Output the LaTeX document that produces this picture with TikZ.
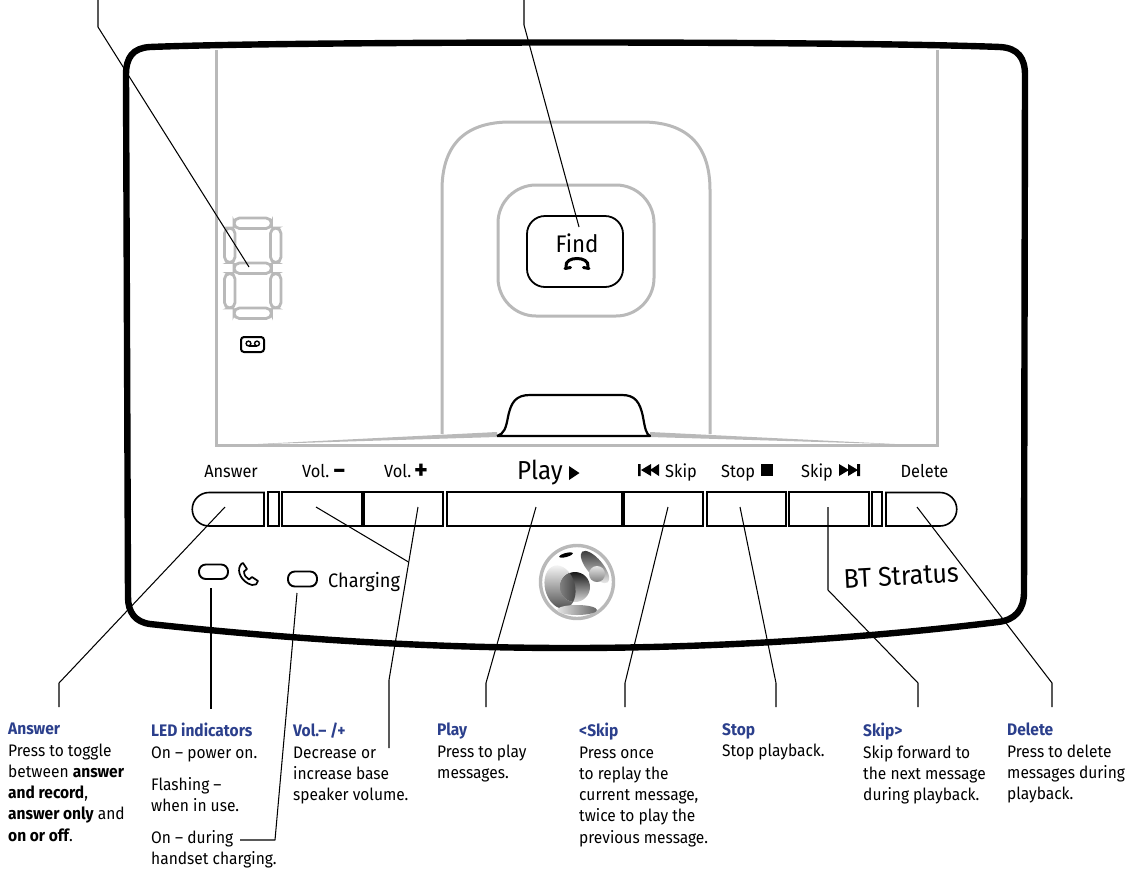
\documentclass[tikz,border=0pt]{standalone}
\usepackage{fontspec}
\setmainfont[FakeStretch=0.93]{Fira Sans}
\definecolor{ttl}{HTML}{2B3F8C}
\definecolor{gry}{HTML}{B9B9B9}
\tikzset{
 grayline/.style={draw=gry,line width=3pt},
 body/.style={draw=black,line width=6.4pt,line join=round},
 btn/.style={draw=black,line width=1.6pt},
 rbtn/.style={btn,rectangle,minimum height=34pt,inner sep=0pt},
 seg/.style={draw=gry,line width=2.8pt,rounded corners=5.4pt},
 pill/.style={draw=black,line width=1.9pt,rounded corners=6.8pt},
 conn/.style={draw=black,line width=1.05pt,line join=round},
 keylab/.style={font=\fontsize{17.6}{18}\selectfont,anchor=base,inner sep=0pt},
 note/.style={font=\fontsize{16.7}{21.3}\selectfont,anchor=north west,align=left,inner sep=0pt},
}
\newcommand{\ttlb}[1]{{\color{ttl}\bfseries #1}}
\begin{document}
\begin{tikzpicture}[x=1pt,y=-1pt]
\useasboundingbox (0,0) rectangle (1139,868);
% gray base outlines
\draw[grayline] (216,50) -- (216,445) -- (937,445) -- (937,50);
\draw[grayline] (442,434) -- (442,190) .. controls (442,145) and (465,122) .. (510,122) -- (642,122) .. controls (687,122) and (710,145) .. (710,190) -- (710,434);
\draw[grayline,rounded corners=38pt] (498,185) rectangle (654,316);
\fill[gry] (248,444.5) -- (497,432) -- (497,437) -- cycle;
\fill[gry] (905,444.5) -- (650,432) -- (650,437) -- cycle;
% outer body
\draw[body] (150,47) .. controls (300,41) and (850,41) .. (1000,47)
  .. controls (1018,48) and (1025,58) .. (1025,75)
  -- (1024,592) .. controls (1024,610) and (1015,620) .. (998,622)
  .. controls (850,640) and (700,648) .. (570,648)
  .. controls (420,648) and (280,638) .. (150,624)
  .. controls (135,622) and (128,612) .. (128,597)
  -- (126,75) .. controls (126,57) and (133,48) .. (150,47) -- cycle;
% seven segment
\draw[seg] (234,218) rectangle (271.5,228.5);
\draw[seg] (234,263) rectangle (271.5,273.5);
\draw[seg] (234,308) rectangle (271.5,318.5);
\draw[seg] (224.5,228) rectangle (235,262.5);
\draw[seg] (270.5,228) rectangle (281,262.5);
\draw[seg] (224.5,273.5) rectangle (235,308);
\draw[seg] (270.5,273.5) rectangle (281,308);
% message icon
\draw[draw=black,line width=2pt,rounded corners=3pt] (241,337) rectangle (264,352);
\draw[line width=1.4pt] (248.5,343.5) circle (2.4) (257,343.5) circle (2.4);
\draw[line width=1.4pt] (248.5,346) -- (257,346);
% Find button
\node[draw=black,line width=1.8pt,rounded corners=18pt,minimum width=96pt,minimum height=71pt] (find) at (575,251.5) {};
\node[font=\fontsize{24}{26}\selectfont,anchor=base,inner sep=0pt] (findt) at (577,252) {Find};
\draw[line width=3pt,line cap=round] (566,267) .. controls (565,261) and (571,258.5) .. (577,258.5) .. controls (583,258.5) and (589,261) .. (588,267);
\draw[line width=3pt,line cap=round] (565,268.5) -- (570.5,267.5) (589,268.5) -- (583.5,267.5);
% stand notch
\draw[line width=2.2pt,line join=round] (497,436) -- (650,436) .. controls (646,434) and (645,428) .. (643,417) .. controls (640,402) and (635,395) .. (622,395) -- (530,395) .. controls (516,395) and (511,402) .. (508,417) .. controls (506,428) and (504,434) .. (497,436);
% key labels
\node[keylab] (lanswer) at (231,477) {Answer};
\node[keylab,anchor=base west] (lvolm) at (302,477) {Vol.};
\node[font=\fontsize{26}{28}\selectfont\bfseries,anchor=base west,inner sep=0pt] (lvolms) at (333,479) {−};
\node[keylab,anchor=base west] (lvolp) at (384,477) {Vol.};
\node[font=\fontsize{28}{30}\selectfont\bfseries,anchor=base west,inner sep=0pt] (lvolps) at (414,479.5) {+};
\node[font=\fontsize{26}{28}\selectfont,anchor=base west,inner sep=0pt] (lplay) at (517,479) {Play};
\fill[black] (569,466) -- (579.5,473) -- (569,480) -- cycle;
\fill[black] (638,464) rectangle (640.5,476) (651,464) -- (651,476) -- (641,470) -- cycle (659,464) -- (659,476) -- (650,470) -- cycle;
\node[keylab,anchor=base west] (lskipa) at (665,477) {Skip};
\node[keylab,anchor=base west] (lstop) at (721,477) {Stop};
\fill[black] (761,464) rectangle (773,476);
\node[keylab,anchor=base west] (lskipb) at (801,477) {Skip};
\fill[black] (839,464) -- (839,476) -- (849,470) -- cycle (848,464) -- (848,476) -- (858,470) -- cycle (857,464) rectangle (860,476);
\node[keylab] (ldelete) at (924.5,477) {Delete};
% buttons
\draw[btn] (264,492.5) -- (209,492.5) arc[start angle=-90,end angle=-270,radius=16.75] -- (264,526) -- cycle;
\node[rbtn,minimum width=11pt] (bs1) at (273.5,509.25) {};
\node[rbtn,minimum width=80pt] (bvm) at (322,509.25) {};
\node[rbtn,minimum width=79pt] (bvp) at (403.5,509.25) {};
\node[rbtn,minimum width=175pt] (bplay) at (534.5,509.25) {};
\node[rbtn,minimum width=79pt] (bskipa) at (663.5,509.25) {};
\node[rbtn,minimum width=79pt] (bstop) at (746.5,509.25) {};
\node[rbtn,minimum width=80pt] (bskipb) at (829,509.25) {};
\node[rbtn,minimum width=10pt] (bs2) at (877,509.25) {};
\draw[btn] (886,492.5) -- (940,492.5) arc[start angle=-90,end angle=90,radius=16.75] -- (886,526) -- cycle;
% LEDs
\draw[pill] (199,564.5) rectangle (228,579);
\draw[pill] (288,571.5) rectangle (317,586.5);
\draw[line width=1.7pt,line join=round,line cap=round] (240,566) .. controls (237,571) and (241,582) .. (252,585) .. controls (255,585.5) and (258,584) .. (258,581) -- (252,577) -- (249,579.5) .. controls (246,578) and (244,575) .. (244,571.5) -- (247,569) -- (243,563) .. controls (242,563) and (241,564) .. (240,566) -- cycle;
\node[font=\fontsize{19.5}{22}\selectfont,anchor=base west,inner sep=0pt] (lcharging) at (328,587.5) {Charging};
\node[font=\fontsize{27}{29}\selectfont,anchor=base west,inner sep=0pt,rotate=3] (lstratus) at (844,588) {BT Stratus};
% logo
\draw[draw=gry,line width=3.4pt] (577,582) circle (36.5);
\shade[top color=black!5,bottom color=black!70,rotate around={15:(560,587)}] (560,587) ellipse (15 and 22);
\shade[top color=black!90,bottom color=black!15] (575,587) circle (15);
\begin{scope}
\clip (575,587) circle (15);
\shade[left color=black!25,right color=black!75,rotate around={15:(560,587)}] (560,587) ellipse (15 and 22);
\end{scope}
\shade[left color=black!10,right color=black!60] (577,610) ellipse (20 and 5);
\shade[top color=black!75,bottom color=black!10,rotate around={40:(595,567)}] (595,567) ellipse (8 and 20);
\shade[top color=black!10,bottom color=black!50] (597,574) circle (8);
\fill[black,rotate around={15:(566,555)}] (566,555) ellipse (7 and 2);
% connectors
\coordinate (t1a) at (98,0); \coordinate (t1b) at (98,27); \coordinate (t1c) at (249,267);
\draw[conn] (t1a) -- (t1b) -- (t1c);
\coordinate (t2a) at (524,0); \coordinate (t2b) at (524,25); \coordinate (t2c) at (579,227);
\draw[conn] (t2a) -- (t2b) -- (t2c);
\coordinate (c1a) at (225,507); \coordinate (c1b) at (59,683); \coordinate (c1c) at (59,707);
\draw[conn] (c1a) -- (c1b) -- (c1c);
\coordinate (c2a) at (211,588); \coordinate (c2b) at (211,709);
\draw[conn] (c2a) -- (c2b);
\coordinate (c3a) at (297,593); \coordinate (c3b) at (275,840); \coordinate (c3c) at (240,840);
\draw[conn] (c3a) -- (c3b) -- (c3c);
\coordinate (c4a) at (316,507); \coordinate (c4b) at (408.5,562);
\draw[conn] (c4a) -- (c4b);
\coordinate (c5a) at (418,507); \coordinate (c5b) at (389,680); \coordinate (c5c) at (389,748);
\draw[conn] (c5a) -- (c5b) -- (c5c);
\coordinate (c6a) at (536,507); \coordinate (c6b) at (486,683); \coordinate (c6c) at (486,707);
\draw[conn] (c6a) -- (c6b) -- (c6c);
\coordinate (c7a) at (668,507); \coordinate (c7b) at (625,683); \coordinate (c7c) at (625,707);
\draw[conn] (c7a) -- (c7b) -- (c7c);
\coordinate (c8a) at (740,507); \coordinate (c8b) at (776,683); \coordinate (c8c) at (776,707);
\draw[conn] (c8a) -- (c8b) -- (c8c);
\coordinate (c9a) at (828,507); \coordinate (c9b) at (828,590); \coordinate (c9c) at (918,683); \coordinate (c9d) at (918,707);
\draw[conn] (c9a) -- (c9b) -- (c9c) -- (c9d);
\coordinate (c10a) at (917,507); \coordinate (c10b) at (1052,683); \coordinate (c10c) at (1052,707);
\draw[conn] (c10a) -- (c10b) -- (c10c);
% notes
\node[note] (n1) at (8,723) {\ttlb{Answer}\\Press to toggle\\between \textbf{answer}\\\textbf{and record},\\\textbf{answer only} and\\\textbf{on or off}.};
\node[note] (n2) at (151,723) {\ttlb{LED indicators}\\On – power on.\\[11pt]Flashing –\\when in use.\\[10.5pt]On – during\\handset charging.};
\node[note] (n3) at (293,723) {\ttlb{Vol.– /+}\\Decrease or\\increase base\\speaker volume.};
\node[note] (n4) at (437,723) {\ttlb{Play}\\Press to play\\messages.};
\node[note] (n5) at (579,723) {\ttlb{<Skip}\\Press once\\to replay the\\current message,\\twice to play the\\previous message.};
\node[note] (n6) at (722,723) {\ttlb{Stop}\\Stop playback.};
\node[note] (n7) at (863,723) {\ttlb{Skip>}\\Skip forward to\\the next message\\during playback.};
\node[note] (n8) at (1007,723) {\ttlb{Delete}\\Press to delete\\messages during\\playback.};
\end{tikzpicture}
\end{document}
